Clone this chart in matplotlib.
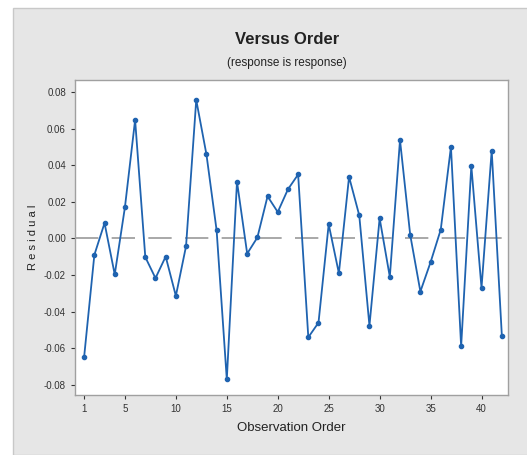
import matplotlib.pyplot as plt
from matplotlib.patches import Rectangle

plt.rcParams['font.family'] = ['Liberation Sans Narrow', 'Liberation Sans', 'DejaVu Sans']

order = list(range(1, 43))
residual = [-0.0645, -0.009, 0.0084, -0.0197, 0.017, 0.0647, -0.0102, -0.0217, -0.0099, -0.0314,
            -0.0042, 0.0756, 0.0459, 0.0044, -0.077, 0.031, -0.0083, 0.0005, 0.023, 0.0144,
            0.0268, 0.0349, -0.054, -0.046, 0.0077, -0.019, 0.0336, 0.0126, -0.0477, 0.011,
            -0.021, 0.0537, 0.002, -0.029, -0.013, 0.0048, 0.050, -0.059, 0.0396, -0.027,
            0.048, -0.0535]
xticks = [1, 5, 10, 15, 20, 25, 30, 35, 40]
yticks = [-0.08, -0.06, -0.04, -0.02, 0.00, 0.02, 0.04, 0.06, 0.08]

fig = plt.figure(figsize=(5.27, 4.55), dpi=100)
fig.patch.set_facecolor('white')
# gray panel behind the plot
fig.patches.append(Rectangle((13 / 527, 0), 1, 1 - 8 / 455, transform=fig.transFigure,
                             facecolor='#e6e6e6', edgecolor='#c8c8c8', lw=1, zorder=-10))

ax = fig.add_axes([75 / 527, 60 / 455, 433 / 527, 315 / 455])
ax.set_facecolor('white')

ax.axhline(0, color='#9a9a9a', lw=1.2, dashes=(14, 8), zorder=1)
ax.plot(order, residual, color='#1f63b0', lw=1.3, marker='o', markersize=3, zorder=2)

ax.set_xlim(0.1, 42.6)
ax.set_ylim(-0.0855, 0.0865)
ax.set_xticks(xticks)
ax.set_yticks(yticks)
ax.set_yticklabels(['%.2f' % v for v in yticks])
ax.tick_params(labelsize=7, colors='#333333', length=3, width=0.8)
for s in ax.spines.values():
    s.set_color('#a0a0a0')
    s.set_linewidth(1)

ax.set_xlabel('Observation Order', fontsize=9.5, color='#222222', labelpad=6)
ax.set_ylabel('R e s i d u a l', fontsize=8, color='#222222', labelpad=4)
fig.text(0.545, 1 - 40 / 455, 'Versus Order', ha='center', va='center', fontsize=12,
         fontweight='bold', color='#222222')
fig.text(0.545, 1 - 63 / 455, '(response is response)', ha='center', va='center', fontsize=8.5, color='#222222')

plt.savefig('out.png', dpi=100)
